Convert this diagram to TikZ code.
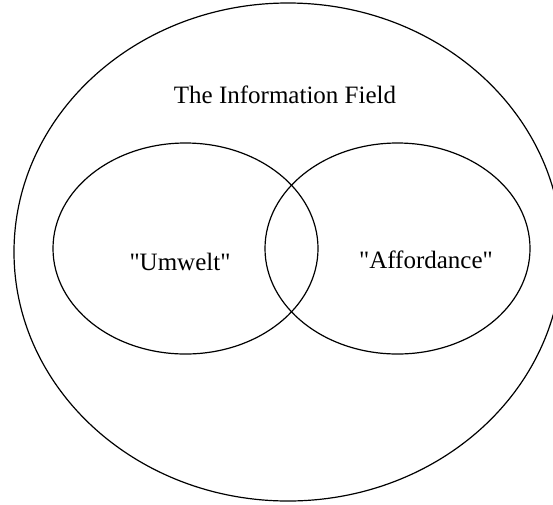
\documentclass[tikz,border=0pt]{standalone}
\usepackage{fontspec}
\setmainfont{Liberation Serif}
\usepackage{tikz}
\usetikzlibrary{shapes}

\tikzset{
  area/.style={ellipse, draw, line width=1.2pt, inner sep=0pt},
  caption/.style={anchor=base, inner sep=0pt, font=\fontsize{25}{30}\selectfont}
}

\begin{document}
\begin{tikzpicture}[x=1pt, y=-1pt]
        \useasboundingbox (0,0) rectangle (553,504);
        %\draw[red] (0,0) rectangle (553,504);
        \node[area, minimum width=548pt, minimum height=498pt] (field) at (288,252) {};
        \node[area, minimum width=265pt, minimum height=211pt] (umwelt) at (185.5,248.5) {};
        \node[area, minimum width=265pt, minimum height=211pt] (affordance) at (397.5,248.5) {};
        \node[caption] (fieldtext) at (285,103) {The Information Field};
        \node[caption] (umwelttext) at (180,270) {\textquotedbl Umwelt\textquotedbl};
        \node[caption] (affordancetext) at (426,268) {\textquotedbl Affordance\textquotedbl};
    \end{tikzpicture}
\end{document}
